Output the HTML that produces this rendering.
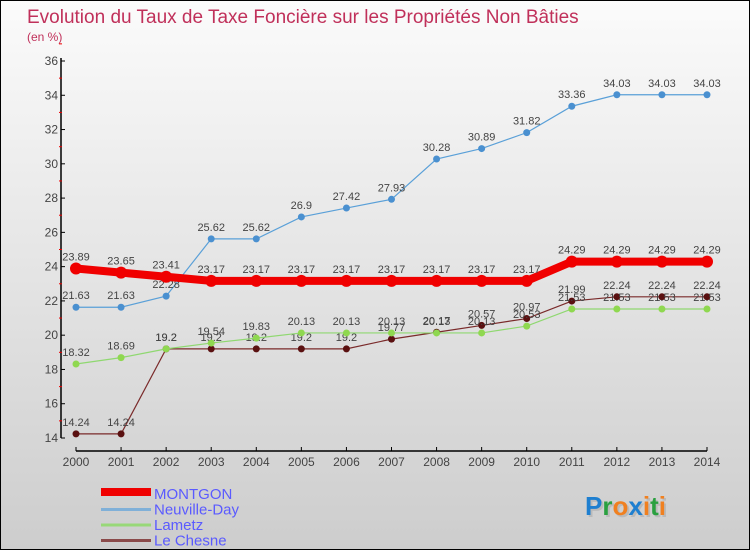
<!DOCTYPE html>
<html><head><meta charset="utf-8"><style>
body{margin:0}
#c{width:750px;height:550px;position:relative;box-sizing:border-box;border:1px solid #000;background:linear-gradient(#fbfbfb,#cdcdcd);font-family:"Liberation Sans",sans-serif;overflow:hidden}
</style></head><body>
<div id="c">
<svg id="s" width="750" height="550" style="position:absolute;left:0;top:0">
<text x="26" y="22" font-size="19" fill="#c0305a">Evolution du Taux de Taxe Foncière sur les Propriétés Non Bâties</text>
<text x="26" y="40" font-size="12" fill="#c0305a">(en %)</text>
<text x="586" y="516" font-size="26" font-weight="bold" fill="#888" opacity="0.3">Proxiti</text>
<text x="584" y="514" font-size="26" font-weight="bold"><tspan fill="#1e7fd0">P</tspan><tspan fill="#2aa040">r</tspan><tspan fill="#f08020">o</tspan><tspan fill="#1e7fd0">x</tspan><tspan fill="#f08020">i</tspan><tspan fill="#2aa040">t</tspan><tspan fill="#f08020">i</tspan></text>
</svg>
</div>
<script>
const years=[2000,2001,2002,2003,2004,2005,2006,2007,2008,2009,2010,2011,2012,2013,2014];
const montgon=[23.89,23.65,23.41,23.17,23.17,23.17,23.17,23.17,23.17,23.17,23.17,24.29,24.29,24.29,24.29];
const neuville=[21.63,21.63,22.28,25.62,25.62,26.9,27.42,27.93,30.28,30.89,31.82,33.36,34.03,34.03,34.03];
const lametz=[18.32,18.69,19.2,19.54,19.83,20.13,20.13,20.13,20.13,20.13,20.53,21.53,21.53,21.53,21.53];
const chesne=[14.24,14.24,19.2,19.2,19.2,19.2,19.2,19.77,20.17,20.57,20.97,21.99,22.24,22.24,22.24];
const yTicks=[14,16,18,20,22,24,26,28,30,32,34,36];
const names=["MONTGON","Neuville-Day","Lametz","Le Chesne"];
const NS="http://www.w3.org/2000/svg",svg=document.getElementById('s');
const X=i=>75+i*(706-75)/(years.length-1);
const Y=v=>437-(v-14)*(437-60)/22;
function el(t,a,p){const e=document.createElementNS(NS,t);for(const k in a)e.setAttribute(k,a[k]);(p||svg).appendChild(e);return e;}
let ax=el('line',{x1:60,y1:57,x2:60,y2:437,stroke:'#000','stroke-width':1.5});


let xx=el('line',{x1:75,y1:450,x2:706,y2:450,stroke:'#000','stroke-width':1.5});


yTicks.forEach(v=>{
 el('line',{x1:60,y1:Y(v),x2:64,y2:Y(v),stroke:'#000'});
 el('line',{x1:58,y1:Y(v+1),x2:61,y2:Y(v+1),stroke:'#e00'});
 const t=el('text',{x:57,y:Y(v)+4,'font-size':12,'text-anchor':'end',fill:'#444'});t.textContent=v;
 
 
});
years.forEach((y,i)=>{
 el('line',{x1:X(i),y1:446,x2:X(i),y2:450,stroke:'#000'});
 const t=el('text',{x:X(i),y:465,'font-size':12,'text-anchor':'middle',fill:'#444'});t.textContent=y;
 
 
});
function series(d,color,w,r,dot,nm){
 const g=el('g',{});
 
 
 el('polyline',{points:d.map((v,i)=>X(i)+','+Y(v)).join(' '),fill:'none',stroke:color,'stroke-width':w},g);
 d.forEach((v,i)=>{
  el('circle',{cx:X(i),cy:Y(v),r:r,fill:dot},g);
  const t=el('text',{x:X(i),y:Y(v)-8,'font-size':11,'text-anchor':'middle',fill:'#444'},g);t.textContent=v;
 });
}
series(chesne,'#7a2a2a',1.2,3.5,'#5a1010','series-le-chesne');
series(lametz,'#8fd870',1.2,3.5,'#8fd850','series-lametz');
series(neuville,'#5aa0d8',1.2,3.5,'#4a90d0','series-neuville-day');
series(montgon,'#f00000',8,6,'#f00000','series-montgon');
const cols=['#f00000','#80b0d8','#98d878','#8a4a4a'],ws=[8,3,3,3];
names.forEach((n,i)=>{
 const y=498+i*15.5;
 const l=el('line',{x1:100,y1:y-7+(i?2:0),x2:150,y2:y-7+(i?2:0),stroke:cols[i],'stroke-width':ws[i]});
 
 
 const t=el('text',{x:153,y:y,'font-size':15,fill:'#5a5aff'});t.textContent=n;
 
 
});
</script>
</body></html>
